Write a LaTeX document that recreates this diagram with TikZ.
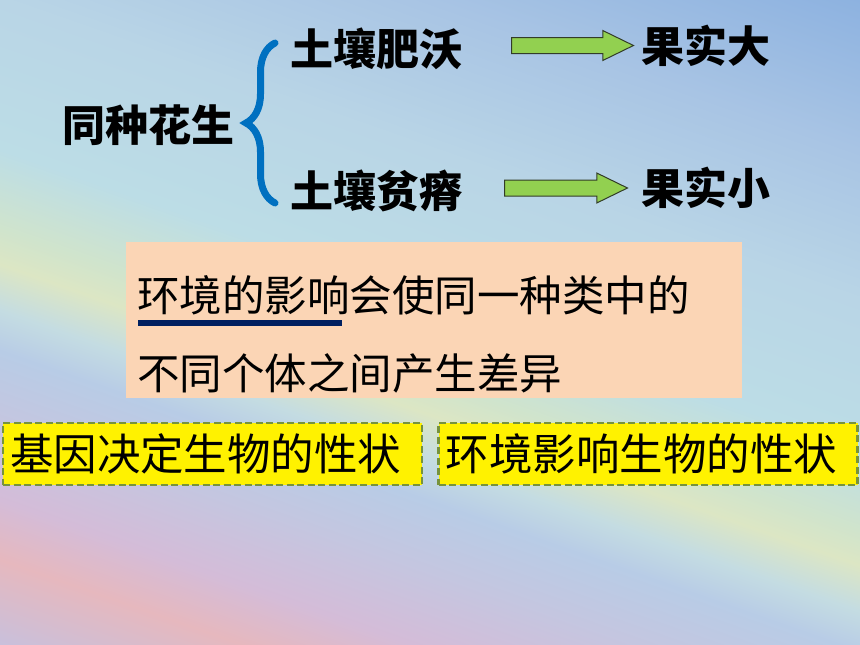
\documentclass[tikz,border=0pt]{standalone}
\usepackage{fontspec}
\newfontfamily\cjk{Noto Sans CJK SC}
\usetikzlibrary{positioning,shapes.arrows,decorations.pathreplacing}

\definecolor{bglav}{RGB}{200,192,220}
\definecolor{bgpink}{RGB}{230,184,190}
\definecolor{bgrose}{RGB}{212,188,216}
\definecolor{bglila}{RGB}{196,198,224}
\definecolor{bgblue}{RGB}{184,204,230}
\definecolor{bgaqua}{RGB}{196,220,226}
\definecolor{bgyell}{RGB}{220,230,196}
\definecolor{bglime}{RGB}{208,228,204}
\definecolor{bgcyan}{RGB}{188,221,230}
\definecolor{bgsky}{RGB}{185,213,230}
\definecolor{bgmid}{RGB}{168,196,228}
\definecolor{bgdeep}{RGB}{141,178,224}
\definecolor{bracecol}{RGB}{0,112,192}
\definecolor{arrowgreen}{RGB}{146,208,80}
\definecolor{arrowline}{RGB}{50,60,40}
\definecolor{peach}{RGB}{251,213,181}
\definecolor{navy}{RGB}{0,32,96}
\definecolor{olive}{RGB}{119,147,60}

\pgfdeclareverticalshading{backdrop}{100bp}{color(0bp)=(bglav); color(25.3bp)=(bglav); color(29.8bp)=(bgpink); color(32.9bp)=(bgrose); color(37.1bp)=(bglila); color(40.7bp)=(bgblue); color(42.8bp)=(bgaqua); color(45.2bp)=(bgyell); color(47bp)=(bglime); color(51.2bp)=(bgcyan); color(59bp)=(bgsky); color(66.8bp)=(bgmid); color(74.7bp)=(bgdeep); color(100bp)=(bgdeep)}

\begin{document}
\begin{tikzpicture}[x=1pt,y=-1pt,
    bigword/.style={font=\cjk\bfseries\fontsize{43}{50}\selectfont,inner sep=0pt,anchor=west},
    lineword/.style={font=\cjk\fontsize{42.5}{50}\selectfont,inner sep=0pt,anchor=west},
    greenarrow/.style={single arrow,draw=arrowline,fill=arrowgreen,line width=1pt,inner sep=7.5pt,
        single arrow head extend=7pt,single arrow tip angle=52,anchor=tail},
    traitbox/.style={draw=olive,fill=yellow,line width=2.2pt,dash pattern=on 7pt off 3.5pt,
        minimum height=62pt,text width=405pt,inner xsep=7pt,align=left,
        font=\cjk\fontsize{43.5}{50}\selectfont}]
    \useasboundingbox (0,0) rectangle (860,645);
    \begin{scope}
        \clip (0,0) rectangle (860,645);
        \begin{scope}[transform canvas={rotate=-19.29}]
            \shade[shading=backdrop] (-10pt,-615pt) rectangle (1035pt,290pt);
        \end{scope}
    \end{scope}

    \draw (62,125) node (peanut) [bigword] {同种花生};
    \draw (290,49) node (rich) [bigword] {土壤肥沃};
    \draw (290,191) node (poor) [bigword] {土壤贫瘠};

    \draw (511,45.5) node (arrA) [greenarrow,minimum height=122pt] {};
    \draw (504,188) node (arrB) [greenarrow,minimum height=123pt] {};

    \draw node (bigfruit) [bigword,right=7pt of arrA.tip] {果实大};
    \draw node (smallfruit) [bigword,right=13pt of arrB.tip] {果实小};

    \draw [draw=bracecol,line width=7pt,line cap=round,decorate,decoration={brace,amplitude=29pt}] (275,203) -- (275,43);

    \draw (434,320) node (effect) [fill=peach,minimum width=616pt,minimum height=156pt] {};
    \draw (137,295) node (lineA) [lineword] {环境的影响会使同一种类中的};
    \draw (137,373) node (lineB) [lineword] {不同个体之间产生差异};
    \draw [navy,line width=6pt] (138,322.5) -- (342,322.5);

    \draw (212.5,454) node (genes) [traitbox] {基因决定生物的性状};
    \draw (648,454) node (surround) [traitbox] {环境影响生物的性状};
\end{tikzpicture}
\end{document}
